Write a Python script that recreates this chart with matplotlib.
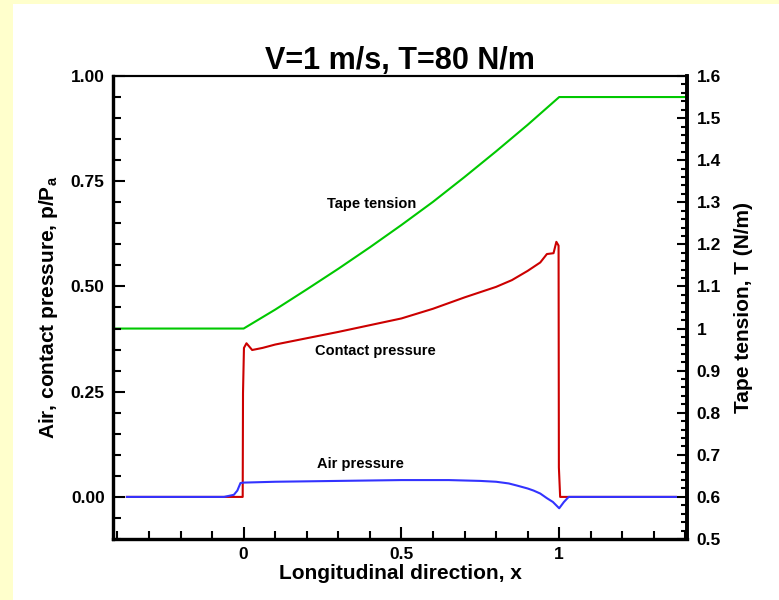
import numpy as np
import matplotlib
matplotlib.use("agg")
from matplotlib import pyplot as plt
from matplotlib.ticker import MultipleLocator, FuncFormatter
from matplotlib.patches import Rectangle

plt.rcParams['font.family'] = ['Liberation Sans', 'DejaVu Sans']

# contact pressure (left axis)
x_contact = [-0.37, -0.057, -0.003, -0.002, 0.001, 0.009, 0.027, 0.06, 0.1, 0.2, 0.3, 0.4,
             0.5, 0.6, 0.7, 0.8, 0.85, 0.9, 0.94, 0.961, 0.982, 0.991, 0.998, 0.999, 1.003, 1.37]
p_contact = [0, 0, 0, 0.247, 0.354, 0.365, 0.349, 0.354, 0.362, 0.377, 0.392, 0.408,
             0.424, 0.447, 0.474, 0.499, 0.515, 0.537, 0.557, 0.577, 0.579, 0.606, 0.597, 0.07, 0.0, 0.0]

# air pressure (left axis)
x_air = [-0.37, -0.062, -0.031, -0.02, -0.01, 0.0, 0.1, 0.3, 0.5, 0.65, 0.75, 0.8, 0.84,
         0.866, 0.9, 0.919, 0.94, 0.961, 0.98, 1.0, 1.015, 1.03, 1.37]
p_air = [0, 0, 0.005, 0.015, 0.033, 0.034, 0.036, 0.038, 0.040, 0.040, 0.038, 0.036, 0.032,
         0.027, 0.02, 0.015, 0.008, -0.003, -0.012, -0.027, -0.012, 0.0, 0.0]

# tape tension (right axis)
x_tension = [-0.414, 0.0, 0.1, 0.2, 0.3, 0.4, 0.5, 0.6, 0.7, 0.8, 0.9, 1.0, 1.41]
tension = [1.0, 1.0, 1.045, 1.093, 1.142, 1.193, 1.246, 1.301, 1.360, 1.421, 1.484, 1.55, 1.55]

GREEN = '#00c800'
RED = '#cc0000'
BLUE = '#3333ff'

fig = plt.figure(figsize=(7.79, 6.0), dpi=100, facecolor='#ffffcc')
fig.patches.append(Rectangle((13 / 779, 0), 1, 596 / 600, transform=fig.transFigure,
                             facecolor='white', edgecolor='none', zorder=-5))

ax = fig.add_axes([113 / 779, 61 / 600, 574 / 779, 463 / 600])
ax2 = ax.twinx()
ax.set_zorder(ax2.get_zorder() + 1)
ax.patch.set_visible(False)
ax2.patch.set_visible(False)

ax2.plot(x_tension, tension, color=GREEN, lw=1.5)
ax.plot(x_contact, p_contact, color=RED, lw=1.5)
ax.plot(x_air, p_air, color=BLUE, lw=1.5)

ax.set_xlim(-0.414, 1.405)
ax.set_ylim(-0.1, 1.0)
ax2.set_ylim(0.5, 1.6)

ax.xaxis.set_major_locator(MultipleLocator(0.5))
ax.xaxis.set_minor_locator(MultipleLocator(0.1))
ax.yaxis.set_major_locator(MultipleLocator(0.25))
ax.yaxis.set_minor_locator(MultipleLocator(0.05))
ax2.yaxis.set_major_locator(MultipleLocator(0.1))
ax2.yaxis.set_minor_locator(MultipleLocator(0.02))

ax.xaxis.set_major_formatter(FuncFormatter(lambda v, p: f'{v:g}'))
ax.yaxis.set_major_formatter(FuncFormatter(lambda v, p: f'{v:.2f}'))
ax2.yaxis.set_major_formatter(FuncFormatter(lambda v, p: f'{round(v, 2):g}'))

ax.tick_params(axis='both', which='major', direction='in', length=8.5, width=1.5,
               labelsize=12.5, pad=6, top=False, right=False)
ax.tick_params(axis='both', which='minor', direction='in', length=5.5, width=1.5,
               top=False, right=False)
ax2.tick_params(axis='y', which='major', direction='in', length=7, width=1.5,
                labelsize=12.5, pad=7)
ax2.tick_params(axis='y', which='minor', direction='in', length=4.3, width=1.5)
for a in (ax, ax2):
    for lab in a.get_xticklabels() + a.get_yticklabels():
        lab.set_fontweight('bold')

for a in (ax, ax2):
    a.spines['left'].set_linewidth(2.3)
    a.spines['bottom'].set_linewidth(2.3)
    a.spines['right'].set_linewidth(2.6)
    a.spines['top'].set_linewidth(1.5)

ax.set_title('V=1 m/s, T=80 N/m', fontsize=22, fontweight='bold', pad=3)
ax.set_xlabel('Longitudinal direction, x', fontsize=15, fontweight='bold', labelpad=1)
ax.set_ylabel('Air, contact pressure, p/P$_\\mathregular{a}$', fontsize=15,
              fontweight='bold', labelpad=8)
ax2.set_ylabel('Tape tension, T (N/m)', fontsize=15, fontweight='bold', labelpad=9)

ax.text(0.263, 0.696, 'Tape tension', fontsize=10.5, fontweight='bold', va='center')
ax.text(0.225, 0.347, 'Contact pressure', fontsize=10.5, fontweight='bold', va='center')
ax.text(0.234, 0.078, 'Air pressure', fontsize=10.5, fontweight='bold', va='center')

fig.savefig('out.png', dpi=100, facecolor=fig.get_facecolor())
